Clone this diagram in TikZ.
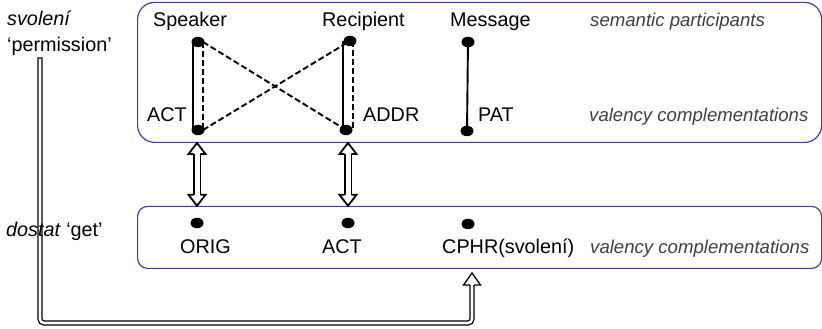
\documentclass[tikz,border=0pt]{standalone}
\usepackage{fontspec}
\setmainfont{Liberation Sans}
\usetikzlibrary{shapes.geometric,calc}
\definecolor{boxblue}{RGB}{58,70,158}
\definecolor{notegray}{RGB}{64,64,64}
% #1 tip, #2 rotation, #3 half shaft (line centre), #4 line width, #5 head length
\newcommand{\blockhead}[5]{\draw[headstyle, line width=#4, shift={(#1)}, rotate=#2] (-#3,-#5) -- (-8.5,-#5) -- (0,0) -- (8.5,-#5) -- (#3,-#5);}
\begin{document}
\begin{tikzpicture}[x=1pt,y=1pt,
 lbl/.style={font=\fontsize{19.8}{23}\selectfont, inner sep=0, anchor=base west},
 note/.style={lbl, font=\fontsize{18.6}{22}\selectfont\itshape, text=notegray},
 box/.style={draw=boxblue, line width=1.2pt, rounded corners=17pt, inner sep=0, anchor=south west},
 dot/.style={ellipse, fill=black, minimum width=13pt, minimum height=10.5pt, inner sep=0},
 solidlink/.style={line width=2.2pt},
 dashlink/.style={line width=1.9pt, dash pattern=on 6pt off 3pt},
 vdbl/.style={draw=black, double=white, double distance=5pt, line width=1.8pt, line cap=butt},
 ldbl/.style={draw=black, double=white, double distance=2.6pt, line width=1.3pt, line cap=rect},
 headstyle/.style={draw=black, fill=white, line join=miter}]
\useasboundingbox (0,0) rectangle (822,329);
% boxes
\node[box, minimum width=684pt, minimum height=140pt] (top) at (137,186) {};
\node[box, rounded corners=10pt, minimum width=684pt, minimum height=62pt] (bot) at (137,60) {};
% dots
\node[dot] (spk) at (198,287) {};
\node[dot] (act) at (198,199) {};
\node[dot] (rec) at (350,288) {};
\node[dot] (addr) at (346,199) {};
\node[dot] (msg) at (468,287) {};
\node[dot] (pat) at (467,198) {};
\node[dot] (orig) at (197,106) {};
\node[dot] (bact) at (348,106) {};
\node[dot] (cphr) at (468,105) {};
% links
\draw[solidlink] ([xshift=-5pt]spk.center) -- ([xshift=-5pt]act.center);
\draw[dashlink] ([xshift=5pt]spk.center) -- ([xshift=5pt]act.center);
\draw[dashlink] ([xshift=5pt]spk.center) -- (addr.center);
\draw[dashlink] ([xshift=5pt]act.center) -- (rec.center);
\draw[solidlink] ([xshift=-7pt]rec.center) -- ([xshift=-3pt]addr.center);
\draw[dashlink] ([xshift=3pt]rec.center) -- ([xshift=7pt]addr.center);
\draw[solidlink, line width=1.9pt] (msg.center) -- (pat.center);
% texts
\node[lbl] (tspk) at (153,302) {Speaker};
\node[lbl] (trec) at (322,302) {Recipient};
\node[lbl] (tmsg) at (450,302) {Message};
\node[note] (tsem) at (590,302) {semantic participants};
\node[lbl] (tact) at (147,207) {ACT};
\node[lbl] (taddr) at (363,207) {ADDR};
\node[lbl] (tpat) at (478,207) {PAT};
\node[note] (tval1) at (589,207) {valency complementations};
\node[lbl] (torig) at (180,75) {ORIG};
\node[lbl] (tbact) at (322,75) {ACT};
\node[lbl] (tcphr) at (442,75) {CPHR(svolení)};
\node[note] (tval2) at (590,75) {valency complementations};
\node[lbl] (tsvo) at (7,303) {\itshape svolení};
\node[lbl] (tperm) at (7,277) {‘permission’};
% vertical double arrows
\coordinate (a1t) at (orig |- top.south);
\coordinate (a1b) at (orig |- bot.north);
\coordinate (a2t) at (bact |- top.south);
\coordinate (a2b) at (bact |- bot.north);
\draw[vdbl] ($(a1t)+(0,-9)$) -- ($(a1b)+(0,9)$);
\draw[vdbl] ($(a2t)+(0,-9)$) -- ($(a2b)+(0,9)$);
\blockhead{a1t}{0}{3.4}{1.8pt}{11}
\blockhead{a1b}{180}{3.4}{1.8pt}{11}
\blockhead{a2t}{0}{3.4}{1.8pt}{11}
\blockhead{a2b}{180}{3.4}{1.8pt}{11}
% L-shaped arrow
\coordinate (lstart) at (40,269);
\coordinate (lbend) at (472,6);
\coordinate (ltip) at (472,56);
\draw[ldbl, rounded corners=4pt] (lstart) |- (lbend) -- ($(ltip)+(0,-13)$);
\blockhead{ltip}{0}{1.95}{1.3pt}{12}
% text over the L arrow
\node[lbl] (tdos) at (6,92) {\itshape dostat\/\upshape{} ‘get’};
\end{tikzpicture}
\end{document}
